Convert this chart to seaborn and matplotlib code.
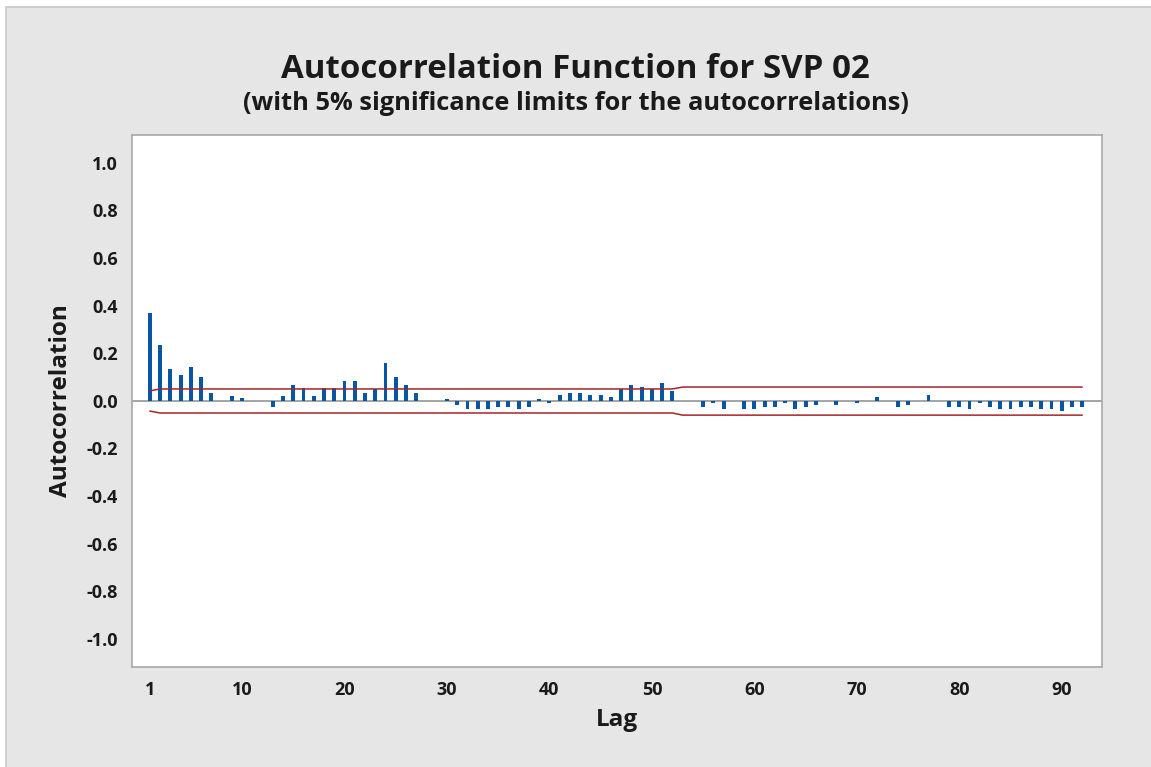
import numpy as np
import pandas as pd
import matplotlib
matplotlib.use("Agg")
import matplotlib.pyplot as plt
import seaborn as sns
from matplotlib.patches import Rectangle

lags = list(range(1, 93))
acf = [0.368, 0.234, 0.133, 0.108, 0.141, 0.099, 0.032, 0.001, 0.022, 0.014,
       0.001, -0.001, -0.027, 0.022, 0.066, 0.056, 0.022, 0.056, 0.056, 0.083,
       0.083, 0.032, 0.049, 0.158, 0.099, 0.066, 0.032, 0.001, -0.001, 0.008,
       -0.018, -0.035, -0.035, -0.035, -0.027, -0.027, -0.035, -0.027, 0.008, -0.010,
       0.024, 0.032, 0.032, 0.024, 0.024, 0.015, 0.049, 0.066, 0.057, 0.049,
       0.074, 0.041, 0.001, -0.001, -0.027, -0.010, -0.035, -0.001, -0.035, -0.035,
       -0.027, -0.027, -0.010, -0.035, -0.027, -0.018, 0.001, -0.018, -0.001, -0.010,
       0.001, 0.015, -0.001, -0.027, -0.018, 0.001, 0.024, -0.001, -0.027, -0.027,
       -0.035, -0.010, -0.027, -0.035, -0.035, -0.027, -0.027, -0.035, -0.035, -0.043,
       -0.027, -0.027]

limit_lags = [1, 2, 52, 53, 92]
limit_upper = [0.042, 0.050, 0.050, 0.058, 0.058]
limit_lower = [-0.043, -0.051, -0.051, -0.060, -0.060]

x_ticks = [1, 10, 20, 30, 40, 50, 60, 70, 80, 90]
y_ticks = [1.0, 0.8, 0.6, 0.4, 0.2, 0.0, -0.2, -0.4, -0.6, -0.8, -1.0]

sns.set_style("white")
plt.rcParams['font.family'] = ['Open Sans', 'DejaVu Sans']

fig = plt.figure(figsize=(11.51, 7.67), dpi=100)
fig.patch.set_facecolor("white")
bg = Rectangle((6 / 1151, -0.01), 1.01 - 6 / 1151, 1.01 - 7 / 767,
               transform=fig.transFigure, facecolor="#e6e6e6",
               edgecolor="#c8c8c8", linewidth=1.2, zorder=-10)
fig.patches.append(bg)

ax = fig.add_axes([132 / 1151, 1 - 666.7 / 767, (1101.7 - 132) / 1151, (666.7 - 135) / 767])
ax.set_facecolor("white")

df = pd.DataFrame({"Lag": lags, "ACF": acf})
ax.axhline(0, color="#8c8c8c", linewidth=1.1, zorder=1)
sns.barplot(data=df, x="Lag", y="ACF", native_scale=True, width=0.38,
            color="#0656a6", saturation=1, ax=ax, zorder=2, linewidth=0)

lim_df = pd.DataFrame({"Lag": limit_lags, "Upper": limit_upper, "Lower": limit_lower})
sns.lineplot(data=lim_df, x="Lag", y="Upper", color="#a3262a", linewidth=1.1, ax=ax, zorder=3)
sns.lineplot(data=lim_df, x="Lag", y="Lower", color="#a3262a", linewidth=1.1, ax=ax, zorder=3)

ax.set_xlim(-0.74, 93.9)
ax.set_ylim(-1.117, 1.117)
ax.set_xticks(x_ticks)
ax.set_xticklabels([str(t) for t in x_ticks])
ax.set_yticks(y_ticks)
ax.set_yticklabels([f"{t:.1f}" for t in y_ticks])
ax.tick_params(axis="both", which="both", direction="out", length=5, width=1,
               color="#a0a0a0", labelsize=13, pad=5)
for lab in ax.get_xticklabels() + ax.get_yticklabels():
    lab.set_fontweight("bold")
    lab.set_color("#1a1a1a")
for s in ax.spines.values():
    s.set_color("#a8a8a8")
    s.set_linewidth(1.2)

ax.set_xlabel("Lag", fontsize=17.5, fontweight="bold", labelpad=7, color="#1a1a1a")
ax.set_ylabel("Autocorrelation", fontsize=17.5, fontweight="bold", labelpad=10, color="#1a1a1a")

fig.text(0.5, 1 - 70 / 767, "Autocorrelation Function for SVP 02", ha="center", va="center",
         fontsize=23.8, fontweight="bold", color="#1a1a1a")
fig.text(0.5, 1 - 104 / 767, "(with 5% significance limits for the autocorrelations)",
         ha="center", va="center", fontsize=18.3, fontweight="bold", color="#1a1a1a")

fig.savefig("out.png", dpi=100, facecolor=fig.get_facecolor())
